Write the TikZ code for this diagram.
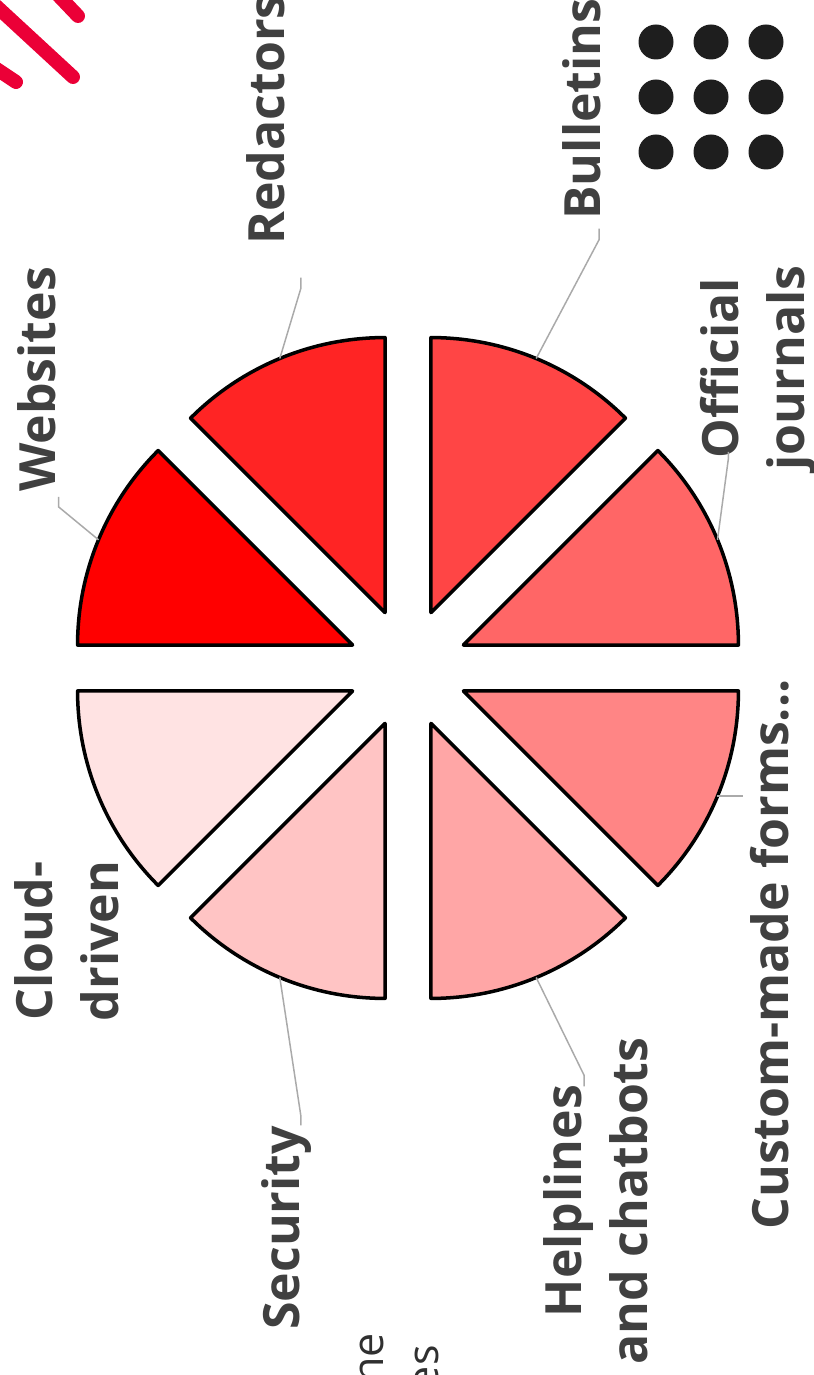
\documentclass[tikz,border=0pt]{standalone}
\usepackage{fontspec}
\setmainfont{Open Sans}
\definecolor{labelgray}{HTML}{404040}
\definecolor{cutgray}{HTML}{303030}
\definecolor{leadergray}{HTML}{AAAAAA}
\definecolor{stripered}{RGB}{235,0,55}
\definecolor{dotblack}{HTML}{1E1E1E}
\tikzset{
  wedge/.style={draw=black, line width=2pt, line join=round},
  leader/.style={draw=leadergray, line width=0.85pt},
  sectorlabel/.style={rotate=90, inner sep=0pt, text=labelgray, align=center,
    font=\bfseries\fontsize{28.45}{37.5}\selectfont},
  cutlabel/.style={rotate=90, inner sep=0pt, text=cutgray,
    font=\fontsize{24.5}{30}\selectfont},
  stripe/.style={draw=stripered, line width=0.28cm, line cap=round}
}
\begin{document}
\begin{tikzpicture}[x=0.02cm, y=0.02cm]
\useasboundingbox (-408,668) rectangle (406,-707);

\draw[stripe] (-413,663) -- (-335,591);
\draw[stripe] (-350,673) -- (-330,652);
\draw[stripe] (-413,600) -- (-392,586);

\foreach \x in {248,303,358}
  \foreach \y in {626,571,516}
    \fill[dotblack] (\x,\y) circle[radius=17.5];

\foreach \s/\pct/\id in {135/100/web, 90/86/red, 45/73/bul, 0/60/off, -45/48/cus, -90/35/hel, -135/23/sec, -180/11/cld}{
  \pgfmathsetmacro\b{\s+22.5}
  \draw[wedge, fill=red!\pct] (\b:60) -- ++(\s:275) arc[start angle=\s, end angle=\s+45, radius=275] -- cycle;
  \coordinate (\id-arc) at (\b:335);
}

\node[sectorlabel, anchor=base west] (web) at (-352,176) {Websites};
\node[sectorlabel, anchor=base west] (red) at (-123,423) {Redactors...};
\node[sectorlabel, anchor=base west] (bul) at (192,448) {Bulletins};
\node[sectorlabel] (off) at (350,300) {Official\\journals};
\node[sectorlabel, anchor=base west] (cus) at (380,-562) {Custom-made forms...};
\node[sectorlabel] (hel) at (188,-533) {Helplines\\and chatbots};
\node[sectorlabel, anchor=base west] (sec) at (-108,-662) {Security};
\node[sectorlabel] (cld) at (-341,-273) {Cloud-\\driven};

\node[cutlabel, anchor=base east] (ne) at (-25,-665) {ne};
\node[cutlabel, anchor=base east] (es) at (30,-677) {es};

\draw[leader] (web-arc) -- ++(-40,33) -- ++(0,10);
\draw[leader] (red-arc) -- ++(21,70) -- ++(0,11);
\draw[leader] (bul-arc) -- ++(63,119) -- ++(0,11);
\draw[leader] (off-arc) -- ++(11,82) -- ++(0,6);
\draw[leader] (cus-arc) -- ++(26,0);
\draw[leader] (hel-arc) -- ++(48,-98) -- ++(0,-11);
\draw[leader] (sec-arc) -- ++(21,-138) -- ++(0,-10);

\end{tikzpicture}
\end{document}
